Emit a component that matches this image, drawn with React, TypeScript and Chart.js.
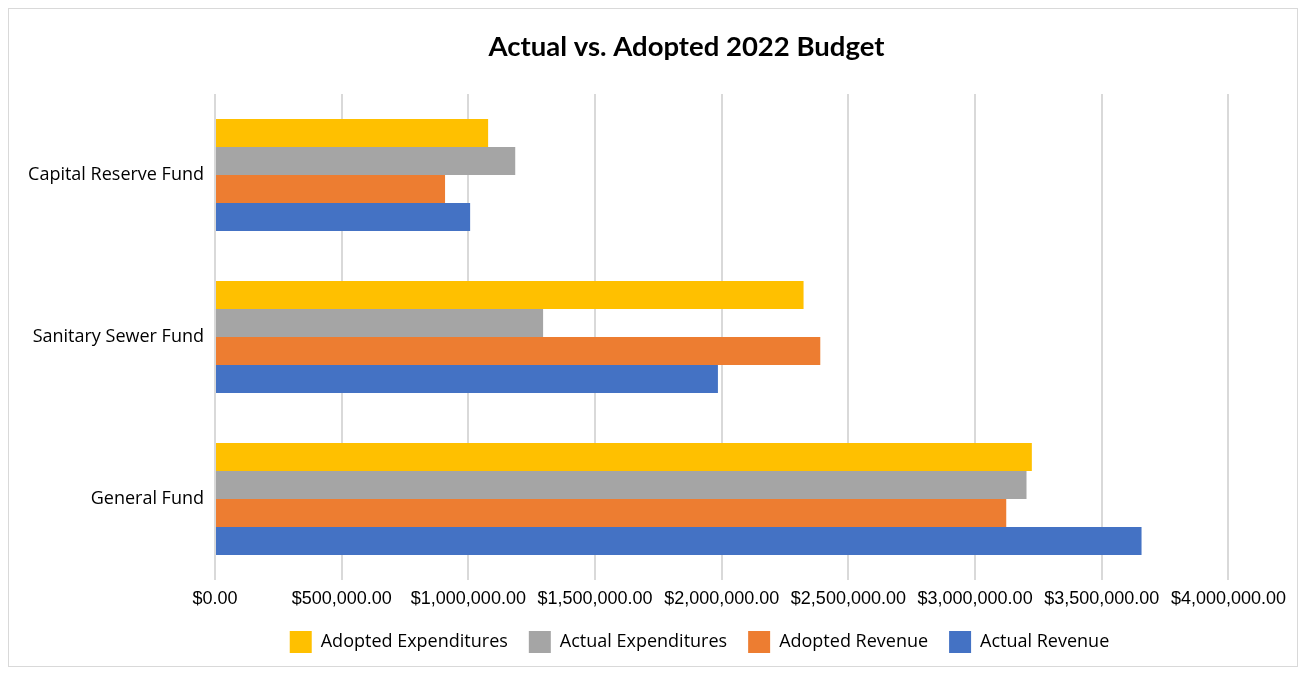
import React, { useEffect, useRef } from "react";
import { Chart, registerables } from "chart.js";

Chart.register(...registerables);

const categories = ["Capital Reserve Fund", "Sanitary Sewer Fund", "General Fund"];
const adoptedExpenditures = [1078000, 2323000, 3224000];
const actualExpenditures = [1185000, 1295000, 3203000];
const adoptedRevenue = [908000, 2389000, 3123000];
const actualRevenue = [1007000, 1985000, 3657000];
const seriesNames = ["Adopted Expenditures", "Actual Expenditures", "Adopted Revenue", "Actual Revenue"];
const seriesColors = ["#FFC000", "#A5A5A5", "#ED7D31", "#4472C4"];
const xMin = 0;
const xMax = 4000000;
const xStep = 500000;

const fmt = (v: number) =>
  "$" + v.toLocaleString("en-US", { minimumFractionDigits: 2, maximumFractionDigits: 2 });

// shift title and legend horizontally to match the reference's placement
const shiftPlugin = {
  id: "shiftBlocks",
  afterLayout(chart: any) {
    const t = chart.titleBlock;
    if (t) {
      t.left += 41;
      t.right += 41;
    }
    const l = chart.legend;
    if (l) {
      l.left += 54;
      l.right += 54;
      if (l.legendHitBoxes) l.legendHitBoxes.forEach((h: any) => (h.left += 54));
    }
  },
};

export default function App() {
  const ref = useRef<HTMLCanvasElement | null>(null);
  useEffect(() => {
    if (!ref.current) return;
    const values = [adoptedExpenditures, actualExpenditures, adoptedRevenue, actualRevenue];
    const chart = new Chart(ref.current, {
      type: "bar",
      data: {
        labels: categories,
        datasets: seriesNames.map((n, i) => ({
          label: n,
          data: values[i],
          backgroundColor: seriesColors[i],
          borderWidth: 0,
          categoryPercentage: 0.69,
          barPercentage: 1.0,
        })),
      },
      plugins: [shiftPlugin],
      options: {
        indexAxis: "y",
        animation: false,
        responsive: true,
        maintainAspectRatio: false,
        layout: { padding: { left: 0, right: 15, top: 0, bottom: 3 } },
        plugins: {
          title: {
            display: true,
            text: "Actual vs. Adopted 2022 Budget",
            color: "#000",
            font: { family: "Lato", size: 27.5, weight: "bold" },
            padding: { top: 22, bottom: 30 },
          },
          legend: {
            position: "bottom",
            labels: {
              color: "#000",
              font: { family: "Open Sans", size: 18 },
              boxWidth: 22,
              boxHeight: 22,
              padding: 21,
            },
          },
          tooltip: { enabled: false },
        },
        scales: {
          x: {
            min: xMin,
            max: xMax,
            ticks: {
              stepSize: xStep,
              color: "#000",
              font: { family: "Liberation Sans", size: 18 },
              padding: 8,
              maxRotation: 0,
              autoSkip: false,
              callback: (v: any) => fmt(Number(v)),
            },
            grid: { color: "#d9d9d9", lineWidth: 2, drawTicks: false },
            border: { display: false },
            afterFit: (s: any) => {
              s.height = 30;
              s.paddingRight = (s.paddingRight || 0) + 3;
            },
          },
          y: {
            ticks: {
              color: "#000",
              font: { family: "Open Sans", size: 18 },
              padding: 3,
            },
            grid: { display: false },
            border: { display: false },
            afterFit: (s: any) => {
              s.width = 206;
            },
          },
        },
      },
    });
    return () => chart.destroy();
  }, []);
  return (
    <div
      style={{
        width: 1288,
        height: 657,
        border: "1px solid #d9d9d9",
        position: "relative",
        background: "#fff",
      }}
    >
      <canvas ref={ref} />
    </div>
  );
}
